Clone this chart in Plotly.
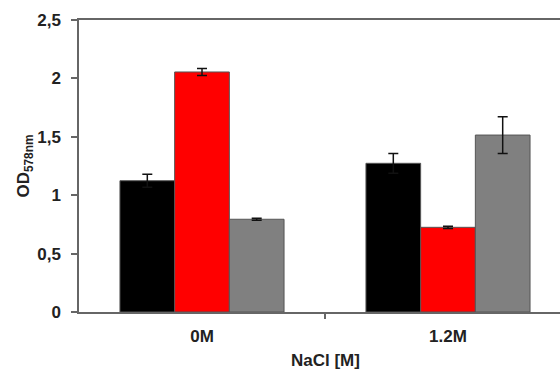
import plotly.graph_objects as go

categories = ["0M", "1.2M"]
series_names = ["A", "B", "C"]
black_vals = [1.124, 1.273]
black_err = [0.055, 0.085]
red_vals = [2.055, 0.725]
red_err = [0.03, 0.01]
gray_vals = [0.794, 1.515]
gray_err = [0.008, 0.157]
ytick_vals = [0, 0.5, 1, 1.5, 2, 2.5]
ytick_text = ["0", "0,5", "1", "1,5", "2", "2,5"]

colors = ["#000000", "#FF0000", "#808080"]
xpos = list(range(len(categories)))

fig = go.Figure()
for name, vals, errs, col in zip(series_names, [black_vals, red_vals, gray_vals],
                                 [black_err, red_err, gray_err], colors):
    fig.add_trace(go.Bar(
        x=xpos, y=vals, name=name,
        marker=dict(color=col, line=dict(color="#555555", width=1)),
        error_y=dict(type="data", array=errs, visible=True,
                     color="#111111", thickness=1.5, width=5),
    ))

font_family = "Liberation Sans, Arial, sans-serif"
fs = 17
fig.update_layout(
    width=560, height=372,
    margin=dict(l=79, r=0, t=20, b=60),
    paper_bgcolor="white", plot_bgcolor="white",
    barmode="group", bargap=0.333, bargroupgap=0,
    showlegend=False,
    font=dict(family=font_family, size=fs, color="#222222"),
    xaxis=dict(
        range=[-0.5, -0.5 + 481 / 246],
        tickmode="array", tickvals=xpos, ticktext=[f"<b>{c}</b>" for c in categories],
        ticks="", showline=True, linecolor="#666666", linewidth=1.5, mirror=True,
        showgrid=False, zeroline=False, ticklabelstandoff=8,
        tickfont=dict(size=fs, color="#222222"),
        minor=dict(tickmode="array", tickvals=[0.5], ticks="outside", ticklen=5,
                   tickcolor="#666666", tickwidth=1.5, showgrid=False),
    ),
    yaxis=dict(
        range=[0, 2.5], tickmode="array", tickvals=ytick_vals,
        ticktext=[f"<b>{t}</b>" for t in ytick_text],
        ticks="outside", ticklen=6, tickcolor="#666666", tickwidth=1.5,
        showline=True, linecolor="#666666", linewidth=1.5,
        showgrid=False, zeroline=False, ticklabelstandoff=7,
        tickfont=dict(size=fs, color="#222222"),
        title=dict(text="<b>OD<sub>578nm</sub></b>", font=dict(size=fs, color="#222222"),
                   standoff=3),
    ),
)
fig.add_annotation(
    text="<b>NaCl [M]</b>", xref="x", x=0.5, yref="paper", y=-(360 - 312) / 292,
    yanchor="middle", showarrow=False, font=dict(size=fs, color="#222222"),
)
fig.write_html("out.html")
